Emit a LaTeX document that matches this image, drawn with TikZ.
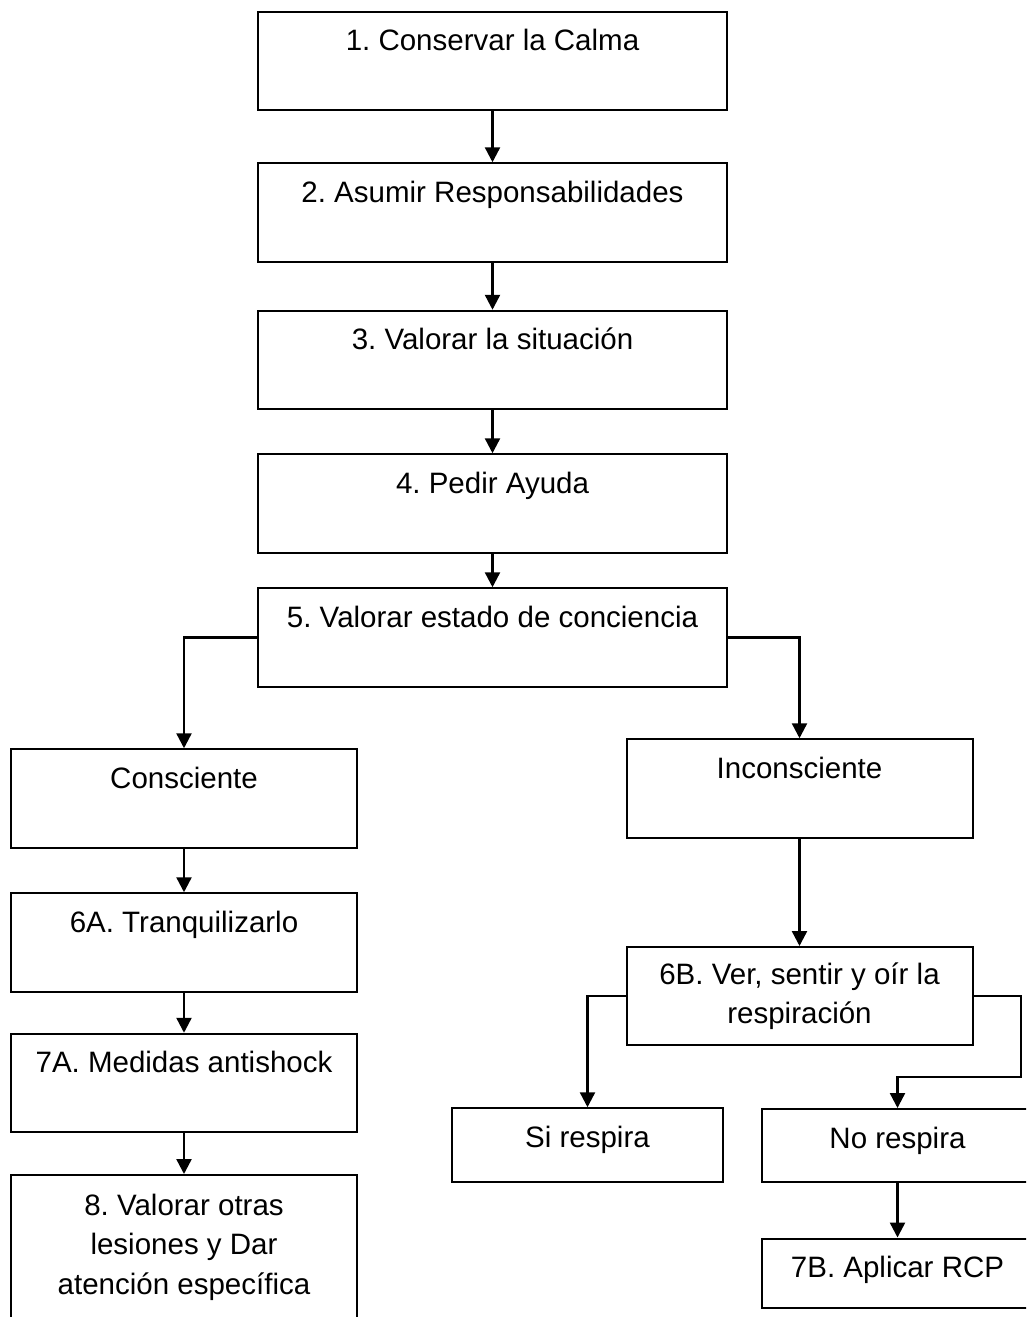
\documentclass[tikz,border=0pt]{standalone}
\usepackage{fontspec}
\setmainfont{Liberation Sans}
\usetikzlibrary{arrows.meta}
\frenchspacing
\begin{document}
\begin{tikzpicture}[x=1pt,y=-1pt,
    font=\fontsize{29.5}{39.5}\selectfont,
    caja/.style={draw,line width=2pt,inner sep=0pt},
    paso/.style={caja,text height=39pt,text depth=59.5pt},
    ancho/.style={minimum width=469pt},
    medio/.style={minimum width=346pt},
    corto/.style={minimum width=271pt},
    flecha/.style={line width=2.4pt,-{Triangle[width=15pt,length=15pt]}}]
    \clip (0,0) rectangle (1026,1317);
    \node[paso,ancho] (p1) at (492.5,61) {1. Conservar la Calma};
    \node[paso,ancho] (p2) at (492.5,212.5) {2. Asumir Responsabilidades};
    \node[paso,ancho] (p3) at (492.5,360) {3. Valorar la situación};
    \node[paso,ancho] (p4) at (492.5,503.5) {4. Pedir Ayuda};
    \node[paso,ancho] (p5) at (492.5,637.5) {5. Valorar estado de conciencia};

    \node[paso,medio] (cons) at (184,798.5) {Consciente};
    \node[paso,medio] (p6a) at (184,942.5) {6A. Tranquilizarlo};
    \node[paso,medio] (p7a) at (184,1083) {7A. Medidas antishock};
    \node[caja,medio,align=center,anchor=north,text height=119pt,text depth=50pt] (p8) at (184,1174)
        {8. Valorar otras\\lesiones y Dar\\atención específica};

    \node[paso,medio] (incons) at (799.5,788.5) {Inconsciente};
    \node[caja,medio,minimum height=98pt,align=center] (p6b) at (799.5,996)
        {6B. Ver, sentir y oír la\\respiración};
    \node[paso,corto,text depth=34.5pt] (si) at (587.5,1145) {Si respira};
    \node[paso,corto,text depth=34pt] (no) at (897.5,1145.5) {No respira};
    \node[paso,corto,text depth=30pt] (p7b) at (897.5,1273) {7B. Aplicar RCP};
    \coordinate (codo) at (1021,1077);

    \draw[flecha] (p1) -- (p2);
    \draw[flecha] (p2) -- (p3);
    \draw[flecha] (p3) -- (p4);
    \draw[flecha] (p4) -- (p5);
    \draw[flecha] (p5.west) -| (cons.north);
    \draw[flecha] (p5.east) -| (incons.north);
    \draw[flecha] (cons) -- (p6a);
    \draw[flecha] (p6a) -- (p7a);
    \draw[flecha] (p7a) -- (p8);
    \draw[flecha] (incons) -- (p6b);
    \draw[flecha] (p6b.west) -| (si.north);
    \draw[flecha] (p6b.east) -| (codo) -| (no.north);
    \draw[flecha] (no) -- (p7b);
  \end{tikzpicture}
\end{document}
